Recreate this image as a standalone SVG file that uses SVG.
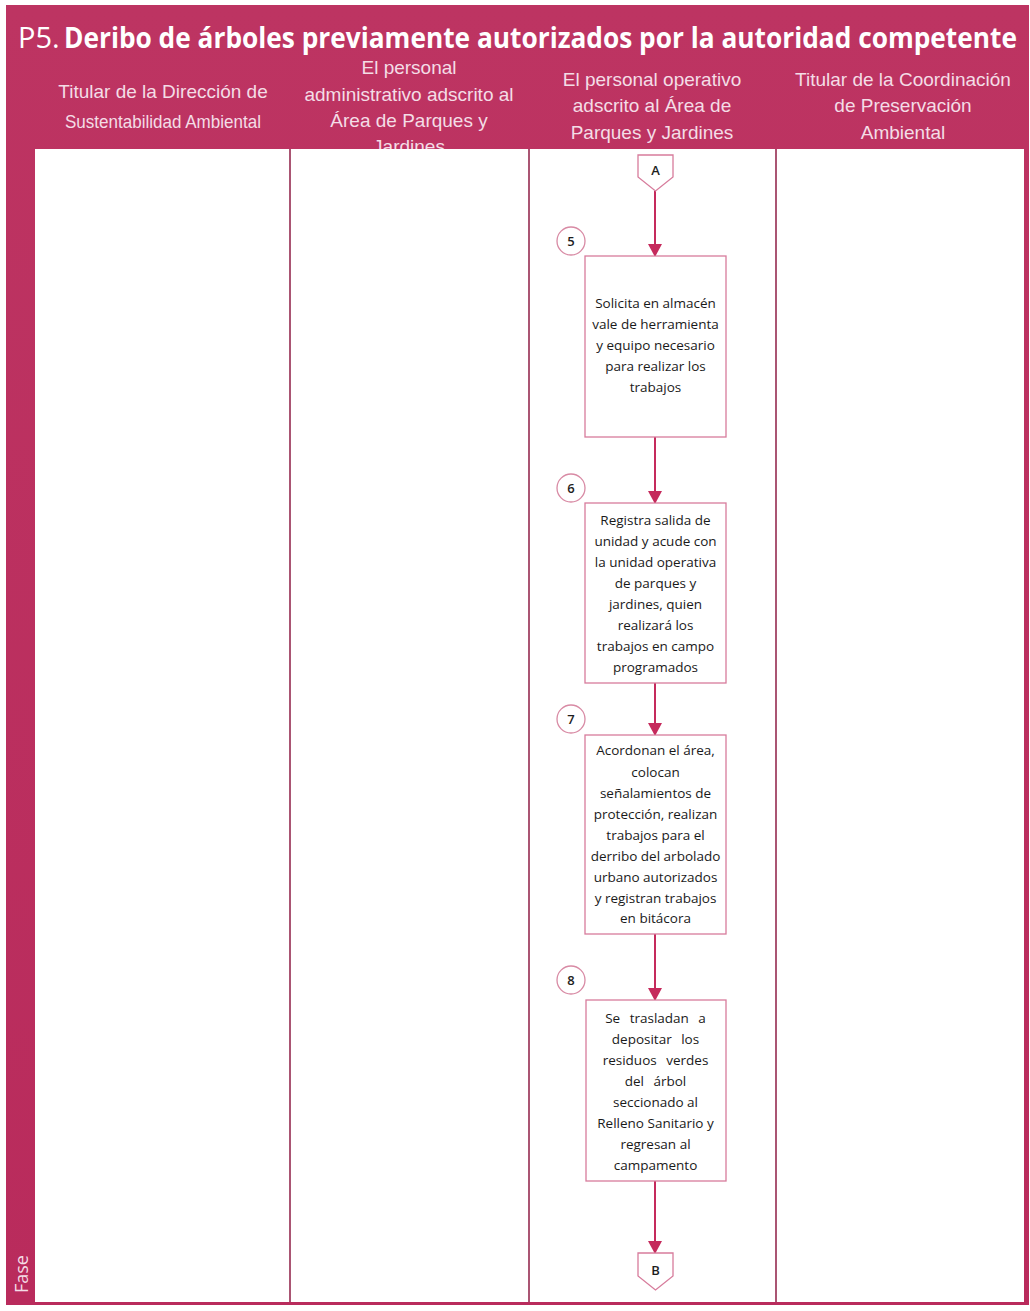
<svg xmlns="http://www.w3.org/2000/svg" width="1030" height="1311" viewBox="0 0 1030 1311">
<style>
.hdr{font-family:"Liberation Sans",Arial,sans-serif;font-size:19px;fill:#f4dde6;text-anchor:middle}
.box{fill:#ffffff;stroke:#d77c9c;stroke-width:1.3}
.txt{font-family:"Open Sans","Liberation Sans",sans-serif;font-size:13.5px;fill:#1a1a1a;text-anchor:middle}
.num{fill:#ffffff;stroke:#d88aa4;stroke-width:1.3}
.numt{font-family:"Open Sans","Liberation Sans",sans-serif;font-size:13px;fill:#1e1e1e;text-anchor:middle;font-weight:600}
.edge{stroke:#c52a5c;stroke-width:2;fill:none}
.col{stroke:#8e1c45;stroke-width:1.5}
</style>
<defs>
<marker id="ah" markerWidth="14" markerHeight="14" refX="12" refY="7" orient="auto" markerUnits="userSpaceOnUse">
<path d="M0,0 L13,7 L0,14 Z" fill="#c52a5c"/>
</marker>
<linearGradient id="bg" x1="0" y1="0" x2="0" y2="1">
<stop offset="0" stop-color="#bd3462"/>
<stop offset="1" stop-color="#b92b5c"/>
</linearGradient>
</defs>
<rect width="1030" height="1311" fill="#ffffff"/>
<g id="frame">
<rect x="6" y="5" width="1023" height="1300" fill="url(#bg)"/>
<text x="18" y="48" font-family="'Open Sans','Noto Sans',sans-serif" font-size="29" fill="#ffffff">P5.</text>
<g transform="translate(64,48) scale(0.9076,1)">
<text x="0" y="0" font-family="'Open Sans','Noto Sans',sans-serif" font-size="28" font-weight="bold" fill="#ffffff" textLength="1050" lengthAdjust="spacingAndGlyphs">Deribo de árboles previamente autorizados por la autoridad competente</text>
</g>
<text class="hdr" x="163" y="98">Titular de la Dirección de</text>
<text class="hdr" x="163" y="128" textLength="196" lengthAdjust="spacingAndGlyphs">Sustentabilidad Ambiental</text>
<text class="hdr" x="409" y="74">El personal</text>
<text class="hdr" x="409" y="101">administrativo adscrito al</text>
<text class="hdr" x="409" y="127">Área de Parques y</text>
<text class="hdr" x="409" y="153">Jardines</text>
<text class="hdr" x="652" y="86">El personal operativo</text>
<text class="hdr" x="652" y="112">adscrito al Área de</text>
<text class="hdr" x="652" y="139">Parques y Jardines</text>
<text class="hdr" x="903" y="86">Titular de la Coordinación</text>
<text class="hdr" x="903" y="112">de Preservación</text>
<text class="hdr" x="903" y="139">Ambiental</text>
<rect x="35" y="149" width="989" height="1153" fill="#ffffff"/>
<line class="col" x1="290" y1="149" x2="290" y2="1302"/>
<line class="col" x1="529" y1="149" x2="529" y2="1302"/>
<line class="col" x1="776" y1="149" x2="776" y2="1302"/>
<text x="28" y="1293" transform="rotate(-90 28 1293)" font-family="'Open Sans','Liberation Sans',sans-serif" font-size="18" fill="#f4dde6">Fase</text>
</g>
<g id="connectors">
<line class="edge" x1="655" y1="191" x2="655" y2="256" marker-end="url(#ah)"/>
<line class="edge" x1="655" y1="437" x2="655" y2="503" marker-end="url(#ah)"/>
<line class="edge" x1="655" y1="683" x2="655" y2="735" marker-end="url(#ah)"/>
<line class="edge" x1="655" y1="934" x2="655" y2="1000" marker-end="url(#ah)"/>
<line class="edge" x1="655" y1="1181" x2="655" y2="1253" marker-end="url(#ah)"/>
</g>
<g id="nodeA">
<path class="box" d="M638,155 H673 V177 L655.5,191 L638,177 Z"/>
<text class="numt" x="655.5" y="175">A</text>
</g>
<g id="node5">
<circle class="num" cx="571" cy="241" r="14"/>
<text class="numt" x="571" y="246">5</text>
<rect class="box" x="585" y="256" width="141" height="181"/>
<text class="txt" x="655.5" y="308">Solicita en almacén</text>
<text class="txt" x="655.5" y="329">vale de herramienta</text>
<text class="txt" x="655.5" y="350">y equipo necesario</text>
<text class="txt" x="655.5" y="371">para realizar los</text>
<text class="txt" x="655.5" y="392">trabajos</text>
</g>
<g id="node6">
<circle class="num" cx="571" cy="488" r="14"/>
<text class="numt" x="571" y="493">6</text>
<rect class="box" x="585" y="503" width="141" height="180"/>
<text class="txt" x="655.5" y="525">Registra salida de</text>
<text class="txt" x="655.5" y="546">unidad y acude con</text>
<text class="txt" x="655.5" y="567">la unidad operativa</text>
<text class="txt" x="655.5" y="588">de parques y</text>
<text class="txt" x="655.5" y="609">jardines, quien</text>
<text class="txt" x="655.5" y="630">realizará los</text>
<text class="txt" x="655.5" y="651">trabajos en campo</text>
<text class="txt" x="655.5" y="672">programados</text>
</g>
<g id="node7">
<circle class="num" cx="571" cy="719" r="14"/>
<text class="numt" x="571" y="724">7</text>
<rect class="box" x="585" y="735" width="141" height="199"/>
<text class="txt" x="655.5" y="755">Acordonan el área,</text>
<text class="txt" x="655.5" y="777">colocan</text>
<text class="txt" x="655.5" y="798">señalamientos de</text>
<text class="txt" x="655.5" y="819">protección, realizan</text>
<text class="txt" x="655.5" y="840">trabajos para el</text>
<text class="txt" x="655.5" y="861">derribo del arbolado</text>
<text class="txt" x="655.5" y="882">urbano autorizados</text>
<text class="txt" x="655.5" y="903">y registran trabajos</text>
<text class="txt" x="655.5" y="923">en bitácora</text>
</g>
<g id="node8">
<circle class="num" cx="571" cy="980" r="14"/>
<text class="numt" x="571" y="985">8</text>
<rect class="box" x="586" y="1000" width="140" height="181"/>
<text class="txt" x="655.5" y="1023" word-spacing="6">Se trasladan a</text>
<text class="txt" x="655.5" y="1044" word-spacing="6">depositar los</text>
<text class="txt" x="655.5" y="1065" word-spacing="6">residuos verdes</text>
<text class="txt" x="655.5" y="1086" word-spacing="6">del árbol</text>
<text class="txt" x="655.5" y="1107">seccionado al</text>
<text class="txt" x="655.5" y="1128">Relleno Sanitario y</text>
<text class="txt" x="655.5" y="1149">regresan al</text>
<text class="txt" x="655.5" y="1170">campamento</text>
</g>
<g id="nodeB">
<path class="box" d="M638,1253 H673 V1276 L655.5,1290 L638,1276 Z"/>
<text class="numt" x="655.5" y="1275">B</text>
</g>
</svg>
